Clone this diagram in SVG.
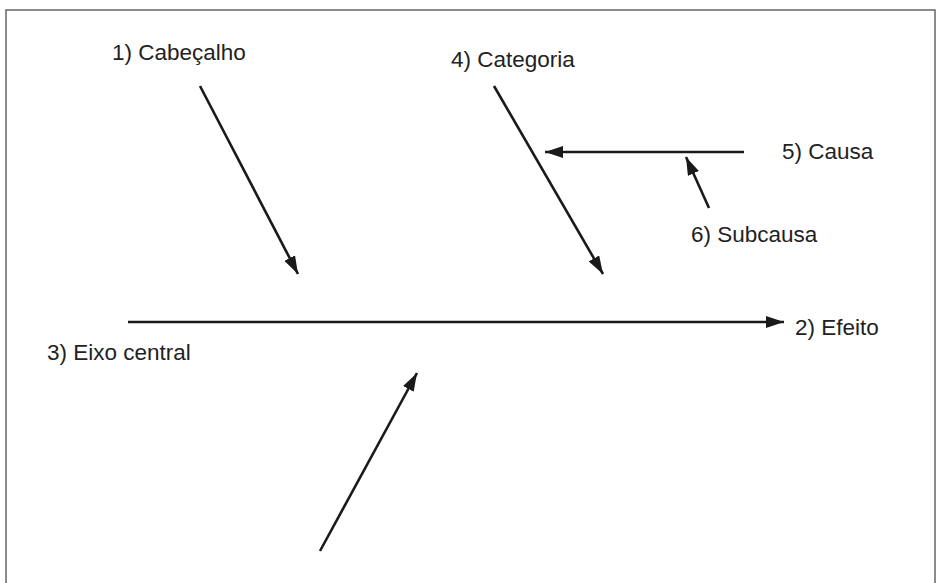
<svg xmlns="http://www.w3.org/2000/svg" width="939" height="583" viewBox="0 0 939 583">
<defs>
<style>
.lbl{font-family:"Liberation Sans",Arial,sans-serif;font-size:22.5px;fill:#222}
.ln{stroke:#1a1a1a;stroke-width:2.6;fill:none;marker-end:url(#ah)}
</style>
<marker id="ah" markerUnits="userSpaceOnUse" markerWidth="20" markerHeight="12" viewBox="0 0 20 12" refX="18" refY="6" orient="auto">
<path d="M0,0 L18,6 L0,12 Z" fill="#1a1a1a"/>
</marker>
</defs>
<rect x="6" y="10" width="929" height="600" fill="#fff" stroke="#666" stroke-width="1.5"/>
<g id="connectors">
<line class="ln" x1="200" y1="86" x2="298" y2="274"/>
<line class="ln" x1="494" y1="86" x2="603" y2="274"/>
<line class="ln" x1="744" y1="152" x2="545" y2="152"/>
<line class="ln" x1="709" y1="208" x2="686" y2="157"/>
<line class="ln" x1="128" y1="322" x2="784" y2="322"/>
<line class="ln" x1="320" y1="551" x2="417" y2="373"/>
</g>
<g id="n1"><text class="lbl" x="112" y="60">1) Cabeçalho</text></g>
<g id="n4"><text class="lbl" x="451" y="67">4) Categoria</text></g>
<g id="n5"><text class="lbl" x="782" y="159">5) Causa</text></g>
<g id="n6"><text class="lbl" x="691" y="242">6) Subcausa</text></g>
<g id="n2"><text class="lbl" x="795" y="335">2) Efeito</text></g>
<g id="n3"><text class="lbl" x="47" y="360">3) Eixo central</text></g>
</svg>
